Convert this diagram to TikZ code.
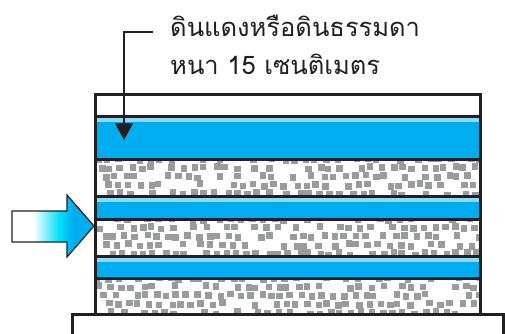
\documentclass[tikz,border=0pt]{standalone}
\usepackage{fontspec}
\newfontfamily\thaifont[Script=Thai]{Loma}
\usetikzlibrary{positioning,arrows.meta}
\definecolor{waterblue}{HTML}{00AEEF}
\definecolor{lightblue}{HTML}{8ED8F8}
\definecolor{inkblack}{HTML}{231F20}
\definecolor{gravelgray}{HTML}{9A9B9E}
% white tail fading into blue at the head
\pgfdeclarehorizontalshading{flowshade}{100bp}{color(0bp)=(white); color(38bp)=(white); color(54bp)=(cyan!60!waterblue); color(62bp)=(waterblue); color(100bp)=(waterblue)}
\tikzset{
  layer line/.style={draw=inkblack, line width=3pt},
  label text/.style={font=\thaifont\fontsize{25.5}{38}\selectfont, text=inkblack, inner sep=0pt, anchor=base west},
}
% gravel band between two heights
\newcommand\gravelband[2]{%
  \begin{scope}
    \clip (95,#1) rectangle (480,#2);
    \foreach \r in {0,...,4}{
      \foreach \c in {0,...,37}{
        \pgfmathsetmacro\gx{94+\c*10.4+\r*3.7+rand*2.5}
        \pgfmathsetmacro\gy{#1-3+\r*8.6+rand*1.5}
        \pgfmathsetmacro\keep{rnd}
        \ifdim\keep pt>0.18pt
          \fill[gravelgray] (\gx,\gy) rectangle ++(6.5,6.5);
        \fi
      }
    }
  \end{scope}}
\begin{document}
\begin{tikzpicture}[x=1pt, y=-1pt]
\useasboundingbox (0,0) rectangle (505,333);
\pgfmathsetseed{11}
% water layers
\foreach \t/\b in {116/159, 196/219, 256/278}{
  \fill[waterblue] (95,\t) rectangle (480,\b);
  \fill[lightblue] (95,\t) rectangle (480,\t+6);
}
% gravel layers
\gravelband{159}{196}
\gravelband{219}{256}
\gravelband{278}{313}
% separators and frame
\foreach \y in {116, 159, 196, 219, 256, 278}
  \draw[layer line] (95,\y) -- (480,\y);
\draw[layer line] (95,313) -- (95,94) -- (480,94) -- (480,313);
% base slab
\draw[layer line] (72,340) -- (72,314) -- (503,314) -- (503,340);
% inflow arrow
\shade[shading=flowshade, draw=inkblack, line width=1.2pt]
  (12,211) -- (67,211) -- (67,195) -- (94,226) -- (67,257) -- (67,242) -- (12,242) -- cycle;
% label and leader
\node[label text] (soilname) at (170,36) {ดินแดงหรือดินธรรมดา};
\node[label text] (thickness) at (170,74) {หนา 15 เซนติเมตร};
\coordinate (elbow) at (124,32);
\coordinate (tip) at (124,140);
\draw[inkblack, line width=1.5pt, -{Triangle[width=18pt,length=17pt]}]
  ([xshift=-17pt, yshift=4pt]soilname.base west) -- (elbow) -- (tip);
\end{tikzpicture}
\end{document}
